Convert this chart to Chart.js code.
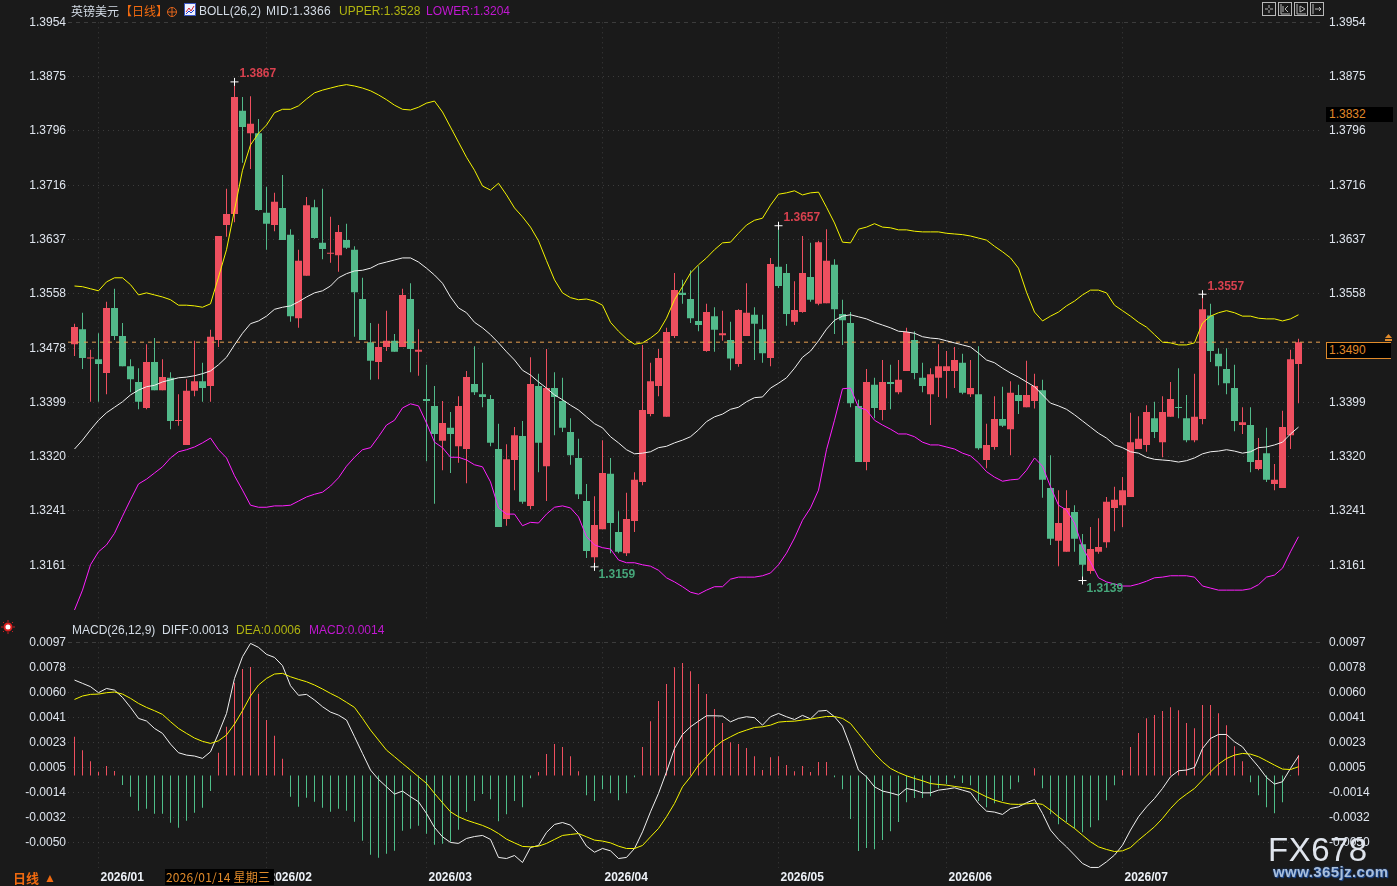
<!DOCTYPE html>
<html>
<head>
<meta charset="utf-8">
<title>英镑美元 日线</title>
<script src="https://cdn.jsdelivr.net/npm/chart.js@4/dist/chart.umd.min.js"></script>
<style>
html,body{margin:0;padding:0;background:#1a1a1a;}
#page{position:relative;width:1397px;height:886px;overflow:hidden;background:#1a1a1a;font:12px "Liberation Sans",Arial,sans-serif;}
canvas{position:absolute;left:0;}
.t{position:absolute;white-space:nowrap;line-height:14px;color:#d4dce6;}
.cn{font-family:"Noto Sans CJK SC",sans-serif;}
.box{position:absolute;box-sizing:border-box;background:#000;color:#e08a2a;padding-left:3px;white-space:nowrap;}
svg{position:absolute;}
</style>
</head>
<body>
<div id="page">
<canvas id="priceChart" width="1397" height="640" style="top:0"></canvas>
<canvas id="macdChart" width="1397" height="266" style="top:620px"></canvas>

<span class="t cn" style="left:71px;top:4px">英镑美元</span>
<span class="t cn" style="left:120px;top:4px;color:#f06a10">【日线】</span>
<svg style="left:166px;top:6px" width="12" height="12"><circle cx="6" cy="6" r="4.5" fill="none" stroke="#e0641c"/><path d="M1 6H11M6 1V11" stroke="#e0641c"/></svg>
<svg style="left:184px;top:3px" width="12" height="13"><rect x=".5" y=".5" width="11" height="12" fill="#eef2ff" stroke="#3a55c0"/><path d="M2 9L5 5L7 8L10 3" fill="none" stroke="#d02030"/><path d="M2 11L5 8L7 10L10 7" fill="none" stroke="#2040d0"/></svg>
<span class="t" style="left:199px;top:4px">BOLL(26,2)</span>
<span class="t" style="left:266px;top:4px;letter-spacing:.3px">MID:1.3366</span>
<span class="t" style="left:339px;top:4px;color:#b0b410">UPPER:1.3528</span>
<span class="t" style="left:426px;top:4px;color:#c018d0">LOWER:1.3204</span>

<svg style="left:1262px;top:2px" width="64" height="14" fill="none" stroke="#b8b8b8">
<rect x=".5" y=".5" width="13" height="13"/><path d="M7 3V6M7 8V11M3 7H6M8 7H11"/>
<rect x="16.5" y=".5" width="13" height="13"/><path d="M19 2V12H28M21 4V10M26 4L23 7L26 10"/>
<rect x="32.5" y=".5" width="13" height="13"/><path d="M35 2V12H44M38 4V10L43 7Z"/>
<rect x="48.5" y=".5" width="13" height="13"/><path d="M51 2V12M53 7H59M57 5L59 7L57 9"/>
</svg>

<div class="box" style="left:1326px;top:107px;width:67px;height:15px;line-height:15px">1.3832</div>
<div class="box" style="left:1326px;top:342px;width:65px;height:17px;line-height:15px;border:1px solid #e08a2a;border-right:0;padding-left:2px">1.3490</div>
<svg style="left:1385px;top:334px" width="7" height="8"><path d="M3.5 0L7 4H0Z" fill="#e08a2a"/><rect x="0" y="5" width="7" height="2" fill="#e08a2a"/></svg>

<svg style="left:1px;top:620px" width="14" height="14"><circle cx="7" cy="7" r="3.5" fill="#fff" stroke="#e02020" stroke-width="2"/><path d="M7 0V2M7 12V14M0 7H2M12 7H14M2 2L3 3M11 11L12 12M12 2L11 3M2 12L3 11" stroke="#c02020"/></svg>
<span class="t" style="left:72px;top:623px">MACD(26,12,9)</span>
<span class="t" style="left:162px;top:623px">DIFF:0.0013</span>
<span class="t" style="left:236px;top:623px;color:#b0b410">DEA:0.0006</span>
<span class="t" style="left:309px;top:623px;color:#c018d0">MACD:0.0014</span>

<span class="t cn" style="left:13px;top:871px;color:#f06a10;font-weight:bold;font-size:13px">日线</span>
<span class="t" style="left:44px;top:871px;color:#f06a10;font-size:12px">▲</span>
<div class="box cn" style="left:165px;top:869px;width:109px;height:16px;line-height:16px;font-size:12px;padding-left:1px;letter-spacing:.2px">2026/01/14 星期三</div>

<span class="t" style="left:1268px;top:831px;font-size:33px;line-height:38px;letter-spacing:.5px;color:#dfe4ec">FX678</span>
<span class="t" style="left:1273px;top:864px;font-size:15px;line-height:16px;font-weight:bold;letter-spacing:.4px;color:#a9bfdc;text-shadow:0 0 2px #1d4a96,1px 1px 1px #1d4a96">www.365jz.com</span>
</div>

<script>
const dates = ["2026/01","2026/02","2026/03","2026/04","2026/05","2026/06","2026/07"];
const dateIdx = [3,24,44,66,88,109,131];

const opens = [
1.3484,1.3506,1.3463,1.3462,1.3442,1.3537,1.3496,1.3452,1.3429,1.3391,
1.3458,1.3417,1.3435,1.3372,1.3337,1.3416,1.3430,1.3423,1.3490,1.3658,
1.3674,1.3825,1.3792,1.3792,1.3676,1.3658,1.3683,1.3644,1.3522,1.3584,
1.3684,1.3632,1.3616,1.3614,1.3636,1.3622,1.3550,1.3487,1.3458,1.3480,
1.3489,1.3480,1.3550,1.3473,1.3404,1.3394,1.3343,1.3362,1.3335,1.3331,
1.3426,1.3411,1.3404,1.3331,1.3229,1.3315,1.3350,1.3248,1.3423,1.3306,
1.3420,1.3401,1.3356,1.3318,1.3255,1.3173,1.3214,1.3295,1.3210,1.3179,
1.3226,1.3283,1.3382,1.3423,1.3378,1.3496,1.3559,1.3550,1.3518,1.3474,
1.3525,1.3497,1.3490,1.3455,1.3496,1.3527,1.3506,1.3464,1.3597,1.3588,
1.3517,1.3531,1.3582,1.3543,1.3544,1.3600,1.3528,1.3515,1.3394,1.3312,
1.3425,1.3388,1.3429,1.3414,1.3445,1.3490,1.3435,1.3411,1.3435,1.3445,
1.3445,1.3457,1.3411,1.3411,1.3315,1.3334,1.3375,1.3360,1.3410,1.3392,
1.3401,1.3417,1.3274,1.3197,1.3181,1.3239,1.3192,1.3153,1.3181,1.3195,
1.3245,1.3249,1.3261,1.3331,1.3337,1.3376,1.3341,1.3378,1.3392,1.3376,
1.3344,1.3375,1.3526,1.3470,1.3448,1.3420,1.3366,1.3366,1.3302,1.3325,
1.3280,1.3274,1.3351,1.3455];

const highs = [
1.3514,1.3530,1.3476,1.3500,1.3546,1.3565,1.3515,1.3462,1.3449,1.3484,
1.3493,1.3462,1.3443,1.3411,1.3433,1.3489,1.3457,1.3505,1.3642,1.3711,
1.3867,1.3845,1.3846,1.3813,1.3714,1.3705,1.3731,1.3652,1.3622,1.3699,
1.3695,1.3711,1.3670,1.3658,1.3660,1.3627,1.3581,1.3515,1.3514,1.3533,
1.3499,1.3565,1.3573,1.3506,1.3454,1.3423,1.3401,1.3385,1.3408,1.3445,
1.3481,1.3457,1.3410,1.3368,1.3338,1.3363,1.3372,1.3465,1.3441,1.3477,
1.3443,1.3435,1.3376,1.3346,1.3280,1.3262,1.3344,1.3318,1.3240,1.3267,
1.3297,1.3483,1.3457,1.3477,1.3508,1.3588,1.3578,1.3592,1.3598,1.3543,
1.3538,1.3533,1.3517,1.3535,1.3573,1.3538,1.3527,1.3610,1.3657,1.3601,
1.3576,1.3642,1.3632,1.3635,1.3652,1.3608,1.3549,1.3531,1.3403,1.3448,
1.3435,1.3461,1.3454,1.3461,1.3508,1.3503,1.3457,1.3449,1.3484,1.3474,
1.3480,1.3470,1.3461,1.3481,1.3368,1.3408,1.3422,1.3430,1.3425,1.3460,
1.3441,1.3432,1.3322,1.3271,1.3271,1.3249,1.3207,1.3217,1.3230,1.3261,
1.3276,1.3290,1.3384,1.3379,1.3395,1.3400,1.3408,1.3429,1.3449,1.3410,
1.3441,1.3557,1.3543,1.3478,1.3478,1.3454,1.3392,1.3392,1.3347,1.3362,
1.3309,1.3387,1.3476,1.3492];

const lows = [
1.3467,1.3448,1.3400,1.3400,1.3411,1.3490,1.3452,1.3414,1.3389,1.3389,
1.3417,1.3417,1.3360,1.3365,1.3337,1.3408,1.3400,1.3400,1.3480,1.3641,
1.3662,1.3749,1.3740,1.3679,1.3622,1.3649,1.3636,1.3517,1.3508,1.3584,
1.3638,1.3608,1.3603,1.3590,1.3623,1.3495,1.3490,1.3432,1.3433,1.3474,
1.3473,1.3480,1.3443,1.3438,1.3313,1.3251,1.3300,1.3296,1.3311,1.3281,
1.3410,1.3392,1.3335,1.3217,1.3219,1.3271,1.3251,1.3243,1.3297,1.3255,
1.3351,1.3356,1.3308,1.3258,1.3172,1.3159,1.3214,1.3179,1.3179,1.3175,
1.3210,1.3278,1.3379,1.3408,1.3378,1.3493,1.3543,1.3515,1.3503,1.3473,
1.3473,1.3489,1.3446,1.3451,1.3496,1.3461,1.3457,1.3452,1.3566,1.3511,
1.3512,1.3530,1.3546,1.3541,1.3544,1.3499,1.3483,1.3392,1.3312,1.3300,
1.3376,1.3373,1.3389,1.3411,1.3445,1.3433,1.3414,1.3366,1.3407,1.3405,
1.3420,1.3411,1.3407,1.3330,1.3303,1.3330,1.3363,1.3322,1.3382,1.3392,
1.3390,1.3260,1.3191,1.3160,1.3181,1.3181,1.3139,1.3149,1.3178,1.3187,
1.3211,1.3217,1.3261,1.3331,1.3327,1.3347,1.3319,1.3378,1.3376,1.3341,
1.3341,1.3367,1.3458,1.3424,1.3411,1.3357,1.3353,1.3297,1.3300,1.3283,
1.3271,1.3274,1.3331,1.3398];

const closes = [
1.3509,1.3464,1.3463,1.3455,1.3537,1.3496,1.3452,1.3433,1.3400,1.3458,
1.3417,1.3436,1.3372,1.3372,1.3416,1.3430,1.3420,1.3495,1.3642,1.3674,
1.3845,1.3801,1.3806,1.3680,1.3660,1.3692,1.3636,1.3525,1.3606,1.3687,
1.3639,1.3623,1.3617,1.3648,1.3625,1.3560,1.3490,1.3460,1.3480,1.3489,
1.3473,1.3556,1.3477,1.3476,1.3401,1.3353,1.3369,1.3353,1.3394,1.3436,
1.3414,1.3407,1.3340,1.3217,1.3316,1.3351,1.3254,1.3426,1.3340,1.3420,
1.3407,1.3362,1.3322,1.3265,1.3182,1.3220,1.3296,1.3223,1.3181,1.3229,
1.3286,1.3388,1.3430,1.3464,1.3502,1.3563,1.3556,1.3522,1.3512,1.3531,
1.3505,1.3500,1.3463,1.3534,1.3530,1.3514,1.3471,1.3601,1.3569,1.3528,
1.3534,1.3588,1.3549,1.3633,1.3606,1.3535,1.3519,1.3398,1.3312,1.3429,
1.3391,1.3429,1.3426,1.3432,1.3502,1.3442,1.3423,1.3440,1.3452,1.3452,
1.3461,1.3413,1.3420,1.3332,1.3337,1.3375,1.3365,1.3413,1.3401,1.3410,
1.3423,1.3286,1.3200,1.3223,1.3245,1.3200,1.3162,1.3185,1.3188,1.3254,
1.3257,1.3271,1.3341,1.3346,1.3385,1.3356,1.3385,1.3404,1.3391,1.3344,
1.3378,1.3535,1.3474,1.3452,1.3427,1.3372,1.3370,1.3312,1.3315,1.3286,
1.3286,1.3363,1.3462,1.3487];

const bollUpper = [
1.3569,1.3568,1.3565,1.3562,1.3575,1.3581,1.3581,1.3571,1.3556,1.3559,
1.3556,1.3553,1.3549,1.3541,1.3541,1.3540,1.3538,1.3543,1.3582,1.3622,
1.3680,1.3738,1.3775,1.3792,1.3804,1.3822,1.3827,1.3827,1.3832,1.3842,
1.3851,1.3855,1.3858,1.3861,1.3863,1.3861,1.3858,1.3854,1.3848,1.3841,
1.3833,1.3827,1.3826,1.3830,1.3836,1.3839,1.3823,1.3801,1.3779,1.3757,
1.3738,1.3715,1.3709,1.3719,1.3702,1.3683,1.3670,1.3655,1.3635,1.3606,
1.3578,1.3559,1.3552,1.3549,1.3550,1.3547,1.3541,1.3516,1.3503,1.3492,
1.3484,1.3486,1.3493,1.3502,1.3522,1.3549,1.3568,1.3588,1.3600,1.3610,
1.3622,1.3632,1.3633,1.3646,1.3658,1.3665,1.3668,1.3687,1.3703,1.3705,
1.3708,1.3702,1.3705,1.3706,1.3684,1.3661,1.3633,1.3632,1.3652,1.3655,
1.3660,1.3655,1.3654,1.3651,1.3651,1.3649,1.3648,1.3648,1.3648,1.3646,
1.3645,1.3644,1.3642,1.3639,1.3636,1.3627,1.3619,1.3610,1.3595,1.3560,
1.3531,1.3518,1.3525,1.3531,1.3540,1.3547,1.3556,1.3563,1.3563,1.3559,
1.3541,1.3533,1.3525,1.3516,1.3509,1.3498,1.3487,1.3486,1.3483,1.3483,
1.3486,1.3515,1.3525,1.3530,1.3533,1.3530,1.3525,1.3525,1.3522,1.3521,
1.3521,1.3518,1.3521,1.3527];

const bollMid = [
1.3331,1.3344,1.3359,1.3373,1.3384,1.3392,1.3400,1.3410,1.3417,1.3422,
1.3424,1.3429,1.3432,1.3435,1.3436,1.3438,1.3441,1.3445,1.3454,1.3465,
1.3483,1.3500,1.3514,1.3518,1.3525,1.3535,1.3538,1.3540,1.3546,1.3553,
1.3559,1.3562,1.3569,1.3581,1.3587,1.3591,1.3592,1.3595,1.3601,1.3604,
1.3607,1.3610,1.3610,1.3604,1.3595,1.3585,1.3573,1.3553,1.3537,1.3530,
1.3516,1.3508,1.3498,1.3486,1.3473,1.3461,1.3446,1.3439,1.3429,1.3420,
1.3410,1.3403,1.3395,1.3388,1.3378,1.3368,1.3362,1.3349,1.3340,1.3330,
1.3324,1.3325,1.3327,1.3333,1.3335,1.3340,1.3344,1.3349,1.3359,1.3371,
1.3378,1.3382,1.3389,1.3392,1.3400,1.3406,1.3407,1.3420,1.3427,1.3435,
1.3449,1.3465,1.3474,1.3489,1.3506,1.3519,1.3525,1.3527,1.3524,1.3521,
1.3516,1.3512,1.3508,1.3503,1.3502,1.3500,1.3495,1.3493,1.3492,1.3489,
1.3486,1.3483,1.3480,1.3471,1.3461,1.3457,1.3449,1.3442,1.3436,1.3429,
1.3422,1.3410,1.3398,1.3394,1.3389,1.3381,1.3372,1.3363,1.3354,1.3347,
1.3337,1.3333,1.3327,1.3325,1.3319,1.3316,1.3315,1.3314,1.3312,1.3314,
1.3318,1.3324,1.3327,1.3328,1.3330,1.3328,1.3325,1.3327,1.3333,1.3334,
1.3337,1.3341,1.3353,1.3363];

const bollLower = [
1.3096,1.3125,1.3162,1.3181,1.3191,1.3208,1.3233,1.3257,1.3280,1.3287,
1.3296,1.3305,1.3318,1.3327,1.3330,1.3334,1.3340,1.3347,1.3330,1.3318,
1.3292,1.3271,1.3249,1.3246,1.3246,1.3248,1.3248,1.3249,1.3255,1.3261,
1.3265,1.3268,1.3277,1.3289,1.3306,1.3319,1.3330,1.3333,1.3349,1.3366,
1.3373,1.3391,1.3397,1.3394,1.3369,1.3341,1.3333,1.3319,1.3319,1.3315,
1.3308,1.3305,1.3283,1.3245,1.3236,1.3236,1.3219,1.3224,1.3223,1.3236,
1.3246,1.3248,1.3245,1.3232,1.3203,1.3191,1.3187,1.3185,1.3169,1.3165,
1.3165,1.3162,1.3160,1.3154,1.3143,1.3137,1.3130,1.3122,1.3119,1.3125,
1.3130,1.3130,1.3141,1.3144,1.3144,1.3144,1.3146,1.3150,1.3162,1.3179,
1.3201,1.3227,1.3245,1.3271,1.3330,1.3373,1.3419,1.3420,1.3392,1.3388,
1.3373,1.3366,1.3360,1.3353,1.3353,1.3349,1.3341,1.3337,1.3337,1.3334,
1.3331,1.3325,1.3321,1.3311,1.3298,1.3290,1.3284,1.3286,1.3287,1.3300,
1.3318,1.3306,1.3276,1.3249,1.3242,1.3223,1.3188,1.3166,1.3143,1.3137,
1.3134,1.3131,1.3131,1.3134,1.3138,1.3143,1.3144,1.3146,1.3146,1.3146,
1.3144,1.3131,1.3128,1.3125,1.3125,1.3125,1.3125,1.3127,1.3133,1.3144,
1.3147,1.3157,1.3181,1.3203];

const macdDiff = [
0.00695,0.00671,0.00647,0.00603,0.00634,0.00622,0.00569,0.00496,0.00416,0.00397,
0.00343,0.00307,0.00229,0.00166,0.00149,0.00142,0.00125,0.00173,0.00307,0.00452,
0.00707,0.00865,0.00962,0.00933,0.00882,0.00860,0.00800,0.00654,0.00584,0.00591,
0.00550,0.00501,0.00462,0.00440,0.00404,0.00283,0.00161,0.00040,-0.00028,-0.00082,
-0.00135,-0.00113,-0.00154,-0.00191,-0.00276,-0.00378,-0.00446,-0.00487,-0.00494,-0.00458,
-0.00444,-0.00436,-0.00465,-0.00596,-0.00604,-0.00582,-0.00633,-0.00524,-0.00509,-0.00414,
-0.00356,-0.00342,-0.00361,-0.00422,-0.00514,-0.00558,-0.00531,-0.00548,-0.00604,-0.00596,
-0.00531,-0.00410,-0.00264,-0.00130,0.00027,0.00197,0.00299,0.00355,0.00396,0.00435,
0.00435,0.00433,0.00391,0.00416,0.00428,0.00421,0.00367,0.00428,0.00452,0.00428,
0.00408,0.00438,0.00413,0.00469,0.00474,0.00428,0.00360,0.00209,0.00039,-0.00009,
-0.00082,-0.00113,-0.00126,-0.00143,-0.00094,-0.00106,-0.00126,-0.00126,-0.00106,-0.00099,
-0.00089,-0.00106,-0.00123,-0.00203,-0.00259,-0.00266,-0.00283,-0.00240,-0.00228,-0.00198,
-0.00174,-0.00276,-0.00397,-0.00465,-0.00519,-0.00579,-0.00640,-0.00669,-0.00669,-0.00628,
-0.00579,-0.00507,-0.00397,-0.00300,-0.00228,-0.00167,-0.00094,-0.00009,0.00035,0.00040,
0.00059,0.00197,0.00270,0.00299,0.00299,0.00246,0.00209,0.00132,0.00064,-0.00014,
-0.00062,-0.00045,0.00052,0.00141];

const macdDea = [
0.00554,0.00579,0.00591,0.00593,0.00603,0.00608,0.00593,0.00562,0.00525,0.00496,
0.00472,0.00445,0.00392,0.00343,0.00307,0.00273,0.00249,0.00234,0.00253,0.00295,
0.00375,0.00472,0.00579,0.00659,0.00707,0.00739,0.00744,0.00719,0.00700,0.00683,
0.00659,0.00630,0.00598,0.00569,0.00533,0.00496,0.00416,0.00331,0.00258,0.00185,
0.00137,0.00088,0.00040,-0.00009,-0.00057,-0.00130,-0.00198,-0.00264,-0.00300,-0.00325,
-0.00344,-0.00363,-0.00388,-0.00422,-0.00463,-0.00490,-0.00516,-0.00519,-0.00514,-0.00494,
-0.00465,-0.00436,-0.00429,-0.00422,-0.00446,-0.00470,-0.00477,-0.00490,-0.00514,-0.00531,
-0.00531,-0.00509,-0.00446,-0.00385,-0.00300,-0.00203,-0.00082,-0.00009,0.00076,0.00137,
0.00205,0.00251,0.00282,0.00311,0.00331,0.00350,0.00355,0.00367,0.00389,0.00394,
0.00396,0.00404,0.00411,0.00421,0.00430,0.00430,0.00416,0.00379,0.00306,0.00234,
0.00161,0.00100,0.00052,0.00022,-0.00002,-0.00021,-0.00038,-0.00058,-0.00065,-0.00070,
-0.00079,-0.00087,-0.00096,-0.00126,-0.00155,-0.00179,-0.00196,-0.00208,-0.00210,-0.00206,
-0.00201,-0.00210,-0.00252,-0.00300,-0.00344,-0.00385,-0.00434,-0.00482,-0.00519,-0.00538,
-0.00553,-0.00548,-0.00524,-0.00470,-0.00422,-0.00373,-0.00312,-0.00240,-0.00179,-0.00135,
-0.00094,-0.00033,0.00027,0.00083,0.00124,0.00149,0.00161,0.00156,0.00137,0.00107,
0.00076,0.00047,0.00044,0.00064];

const macdHist = [
0.00283,0.00185,0.00105,0.00028,0.00069,0.00033,-0.00069,-0.00154,-0.00256,-0.00242,
-0.00278,-0.00278,-0.00344,-0.00380,-0.00329,-0.00271,-0.00234,-0.00113,0.00166,0.00355,
0.00676,0.00775,0.00790,0.00596,0.00404,0.00290,0.00122,-0.00154,-0.00227,-0.00162,
-0.00191,-0.00234,-0.00263,-0.00242,-0.00256,-0.00336,-0.00475,-0.00577,-0.00598,-0.00570,
-0.00547,-0.00402,-0.00387,-0.00365,-0.00424,-0.00504,-0.00496,-0.00482,-0.00395,-0.00266,
-0.00186,-0.00135,-0.00172,-0.00332,-0.00281,-0.00186,-0.00230,-0.00019,0.00025,0.00156,
0.00229,0.00207,0.00141,0.00032,-0.00143,-0.00186,-0.00099,-0.00128,-0.00179,-0.00128,
-0.00012,0.00207,0.00396,0.00542,0.00666,0.00789,0.00819,0.00760,0.00666,0.00593,
0.00484,0.00382,0.00243,0.00229,0.00200,0.00141,0.00040,0.00134,0.00141,0.00076,
0.00032,0.00069,0.00025,0.00098,0.00098,-0.00012,-0.00099,-0.00317,-0.00550,-0.00528,
-0.00536,-0.00470,-0.00405,-0.00339,-0.00194,-0.00164,-0.00164,-0.00150,-0.00092,-0.00062,
-0.00019,-0.00055,-0.00070,-0.00186,-0.00230,-0.00201,-0.00186,-0.00099,-0.00048,0.00001,
0.00054,-0.00092,-0.00281,-0.00354,-0.00339,-0.00383,-0.00412,-0.00376,-0.00325,-0.00179,
-0.00070,0.00040,0.00207,0.00309,0.00418,0.00440,0.00469,0.00498,0.00476,0.00382,
0.00345,0.00513,0.00513,0.00454,0.00367,0.00214,0.00105,-0.00048,-0.00143,-0.00230,
-0.00274,-0.00194,-0.00004,0.00149];

const priceTicks = [1.3954,1.3875,1.3796,1.3716,1.3637,1.3558,1.3478,1.3399,1.3320,1.3241,1.3161];
const macdTickPos = [0.0097,0.00788,0.00606,0.00424,0.00242,0.0006,-0.00122,-0.00304,-0.00486];
const macdTicks = ["0.0097","0.0078","0.0060","0.0041","0.0023","0.0005","-0.0014","-0.0032","-0.0050"];

const lastLine = 1.3487;
const markIdx = [20,88,141,65,126];
const markVal = [1.3867,1.3657,1.3557,1.3159,1.3139];
const markUp = [true,true,true,false,false];

const UP = "#ee4f5f", DOWN = "#52b98a", GRID = "#3c3c3c", TEXT = "#dfe5ee";
const xMin = -0.8125, xMax = 155.9375;

Chart.defaults.font.family = '"Liberation Sans", Arial, sans-serif';
Chart.defaults.font.size = 12;
Chart.defaults.animation = false;

const pts = arr => arr.map((v,i) => ({x:i,y:v}));
const candleColor = closes.map((c,i) => c >= opens[i] ? UP : DOWN);

const lineDs = (data,color) => ({
    type:"line", data:pts(data), borderColor:color, borderWidth:1,
    pointRadius:0, tension:0, order:1
});

const xScale = extra => Object.assign({
    type:"linear", min:xMin, max:xMax, offset:false,
    grid:{offset:false, color:GRID, drawTicks:false},
    border:{display:false, dash:[1,4]},
    afterBuildTicks:s => { s.ticks = dateIdx.map(v => ({value:v})); }
}, extra);

const yScale = (position,min,max,values,labels) => ({
    position, min, max,
    grid:{display:position === "left", drawTicks:false, color:GRID},
    border:{display:false, dash:ctx => ctx.index === 0 ? [4,4] : [1,4]},
    afterBuildTicks:s => { s.ticks = values.map(v => ({value:v})); },
    afterFit:s => { s.width = position === "left" ? 68 : 75; },
    ticks:{
        autoSkip:false, color:TEXT, padding:position === "left" ? 2 : 7,
        callback:(v,i) => labels[i]
    }
});

const markLabels = {
    id:"markLabels",
    afterDatasetsDraw(chart){
        const c = chart.ctx, x = chart.scales.x, y = chart.scales.y;
        c.save();
        c.font = 'bold 12px "Liberation Sans", Arial, sans-serif';
        c.textBaseline = "middle";
        markIdx.forEach((k,i) => {
            c.fillStyle = markUp[i] ? "#d9414f" : "#46a67a";
            c.fillText(markVal[i].toFixed(4), x.getPixelForValue(k) + (markUp[i] ? 5 : 4), y.getPixelForValue(markVal[i]) + (markUp[i] ? -8 : 8));
        });
        c.restore();
    }
};

const priceLabels = priceTicks.map(v => v.toFixed(4));

new Chart(document.getElementById("priceChart"), {
    type:"bar",
    plugins:[markLabels],
    data:{
        datasets:[
            {data:lows.map((l,i) => ({x:i,y:[l,highs[i]]})), backgroundColor:candleColor, barThickness:1, grouped:false, inflateAmount:0, minBarLength:1, order:3},
            {data:opens.map((o,i) => ({x:i,y:[o,closes[i]]})), backgroundColor:candleColor, barThickness:7, grouped:false, inflateAmount:0, minBarLength:1, order:2},
            lineDs(bollUpper,"#f5f500"),
            lineDs(bollMid,"#f0f0f0"),
            lineDs(bollLower,"#ff20ff"),
            {type:"line", data:[{x:xMin,y:lastLine},{x:xMax,y:lastLine}], borderColor:"#e8a050", borderWidth:1, borderDash:[4,4], pointRadius:0, order:1},
            {type:"line", data:markIdx.map((k,i) => ({x:k,y:markVal[i]})), showLine:false, pointStyle:"crossRot", rotation:45, pointRadius:4, pointBorderColor:"#fff", pointBorderWidth:1, order:0}
        ]
    },
    options:{
        responsive:false, events:[],
        layout:{autoPadding:false, padding:{top:22.3,bottom:0,left:0,right:0}},
        plugins:{legend:{display:false},tooltip:{enabled:false}},
        scales:{
            x:xScale({afterFit:s => { s.height = 20; }, ticks:{display:false}}),
            y:yScale("left",1.30814,1.3954,priceTicks,priceLabels),
            y2:yScale("right",1.30814,1.3954,priceTicks,priceLabels)
        }
    }
});

new Chart(document.getElementById("macdChart"), {
    type:"bar",
    data:{
        datasets:[
            {data:pts(macdHist), backgroundColor:macdHist.map(v => v >= 0 ? "#ee4f5f" : "#4fbf8a"), barThickness:1, grouped:false, inflateAmount:0, order:2},
            lineDs(macdDea,"#f5f500"),
            lineDs(macdDiff,"#f0f0f0")
        ]
    },
    options:{
        responsive:false, events:[],
        layout:{autoPadding:false, padding:{top:22.3,bottom:0,left:0,right:0}},
        plugins:{legend:{display:false},tooltip:{enabled:false}},
        scales:{
            x:xScale({
                afterFit:s => { s.height = 18; },
                ticks:{
                    autoSkip:false, maxRotation:0, align:"start", labelOffset:2, padding:2,
                    color:"#eef2f8", font:{weight:"bold",size:12},
                    callback:(v,i) => dates[i]
                }
            }),
            y:yScale("left",-0.00673,0.0097,macdTickPos,macdTicks),
            y2:yScale("right",-0.00673,0.0097,macdTickPos,macdTicks)
        }
    }
});
</script>
</body>
</html>
